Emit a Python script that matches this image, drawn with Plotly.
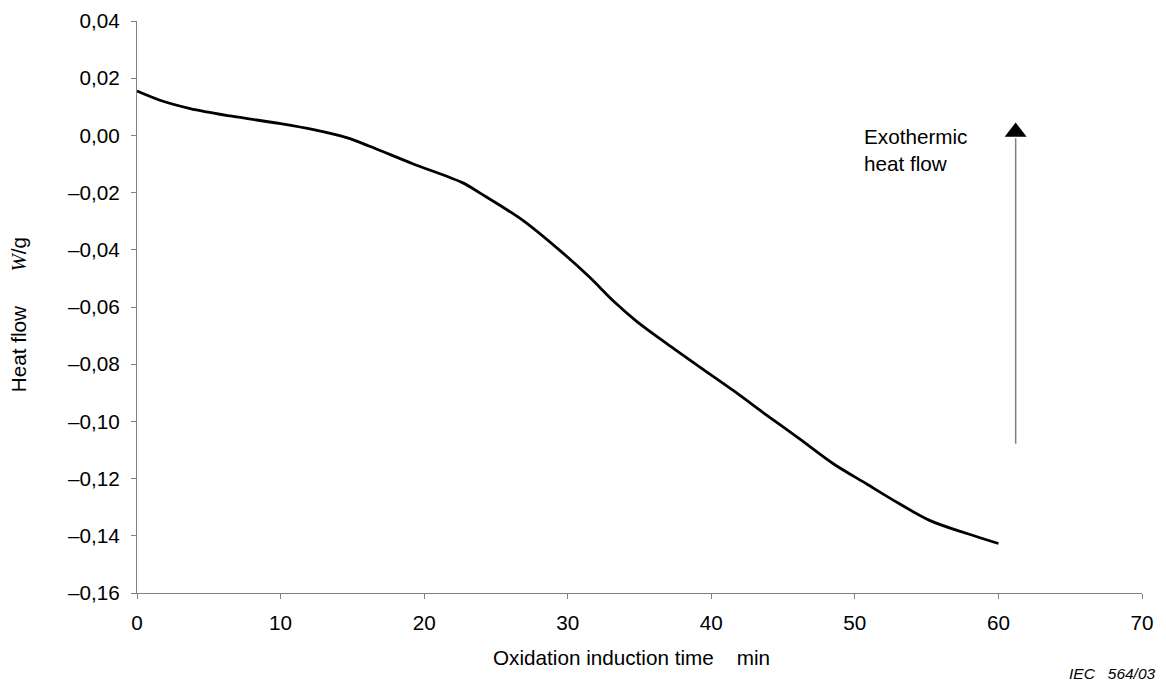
import plotly.graph_objects as go

# Data
time_min = [0, 1.6, 3.7, 6.5, 10, 12.3, 14.6, 16.2, 19.2, 22.7, 23.9, 26.9,
            29.7, 31.55, 33.2, 34.8, 36.9, 39.2, 41.5, 43.8, 46.2, 48.5,
            50.8, 52.5, 55.2, 57.8, 60.0]
heat_flow = [0.0155, 0.0123, 0.0094, 0.0068, 0.0041, 0.0020, -0.0008, -0.0038,
             -0.0099, -0.0166, -0.0202, -0.0298, -0.0413, -0.0497, -0.0580,
             -0.0650, -0.0728, -0.0810, -0.0891, -0.0976, -0.1063, -0.1148,
             -0.1218, -0.1270, -0.1346, -0.1392, -0.1427]

x_ticks = [0, 10, 20, 30, 40, 50, 60, 70]
y_ticks = [0.04, 0.02, 0.00, -0.02, -0.04, -0.06, -0.08, -0.10, -0.12, -0.14, -0.16]
y_tick_labels = ["0,04", "0,02", "0,00", "\u20130,02", "\u20130,04", "\u20130,06",
                 "\u20130,08", "\u20130,10", "\u20130,12", "\u20130,14", "\u20130,16"]

# Exothermic arrow (data coordinates)
arrow_x = 61.2
arrow_y0 = -0.1078
arrow_y1 = -0.0010
arrow_head_y = 0.0012

FONT = "Arial, Liberation Sans, sans-serif"
FS = 20.7
AXIS_COLOR = "#808080"

fig = go.Figure()
fig.add_trace(go.Scatter(x=time_min, y=heat_flow, mode="lines",
                         line=dict(color="black", width=2.8, shape="spline", smoothing=0.9),
                         showlegend=False, hoverinfo="skip"))
fig.add_shape(type="line", x0=arrow_x, x1=arrow_x, y0=arrow_y0, y1=arrow_y1,
              xref="x", yref="y", line=dict(color=AXIS_COLOR, width=1.5))
fig.add_trace(go.Scatter(x=[arrow_x], y=[arrow_head_y], mode="markers",
                         marker=dict(symbol="triangle-up", size=19, color="black",
                                     line=dict(width=0)),
                         showlegend=False, hoverinfo="skip"))

fig.add_annotation(x=50.47, y=-0.0052, xref="x", yref="y", xanchor="left", yanchor="middle",
                   text="Exothermic<br>heat flow", showarrow=False, align="left",
                   font=dict(family=FONT, size=FS, color="black"))

fig.add_annotation(x=(631 - 137) / 1005, y=(592.7 - 657) / 572, xref="paper", yref="paper",
                   xanchor="center", yanchor="middle", showarrow=False,
                   text="Oxidation induction time\u00a0\u00a0\u00a0 min",
                   font=dict(family=FONT, size=FS, color="black"))

fig.add_annotation(x=(18 - 137) / 1005, y=(592.7 - 315) / 572, xref="paper", yref="paper",
                   xanchor="center", yanchor="middle", showarrow=False, textangle=-90,
                   text=("Heat flow\u00a0\u00a0\u00a0\u00a0\u00a0 "
                         "<span style=\"font-family:'Liberation Serif','Times New Roman',serif;font-style:italic\">W</span>/g"),
                   font=dict(family=FONT, size=FS, color="black"))

fig.add_annotation(x=(1157 - 137) / 1005, y=(592.7 - 683) / 572, xref="paper", yref="paper",
                   xanchor="right", yanchor="bottom", showarrow=False, borderpad=0,
                   text="<i>IEC\u00a0\u00a0\u00a0564/03</i>",
                   font=dict(family=FONT, size=15.5, color="black"))

fig.update_layout(
    width=1166, height=684,
    margin=dict(l=137, r=24, t=21, b=91, autoexpand=False),
    paper_bgcolor="white", plot_bgcolor="white",
    font=dict(family=FONT, size=FS, color="black"),
    xaxis=dict(range=[0, 70], tickvals=x_ticks, ticktext=[str(v) for v in x_ticks],
               automargin=False,
               showgrid=False, zeroline=False, showline=True, linecolor=AXIS_COLOR, linewidth=1.3,
               ticks="outside", ticklen=5, tickcolor=AXIS_COLOR, tickwidth=1.3,
               ticklabelstandoff=6,
               tickfont=dict(family=FONT, size=FS, color="black")),
    yaxis=dict(range=[-0.16, 0.04], tickvals=y_ticks, ticktext=y_tick_labels,
               automargin=False,
               showgrid=False, zeroline=False, showline=True, linecolor=AXIS_COLOR, linewidth=1.3,
               ticks="outside", ticklen=5, tickcolor=AXIS_COLOR, tickwidth=1.3,
               ticklabelstandoff=7,
               tickfont=dict(family=FONT, size=FS, color="black")),
)

fig.write_html("out.html")
